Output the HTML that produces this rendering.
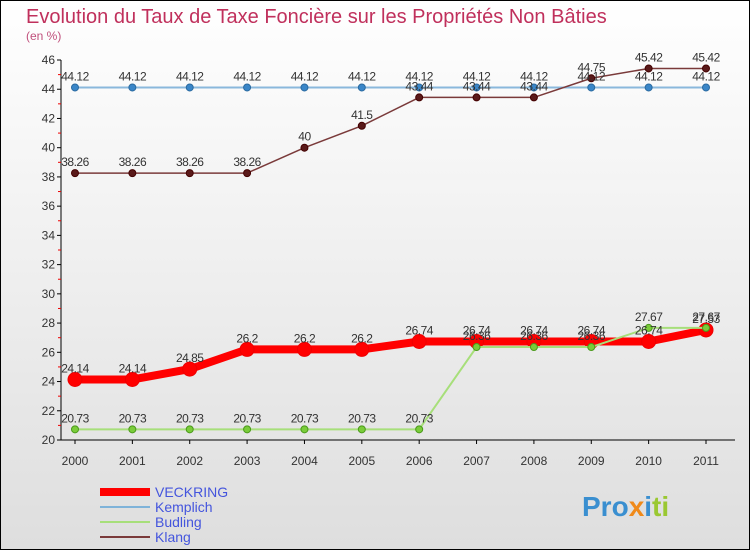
<!DOCTYPE html>
<html><head><meta charset="utf-8"><style>
html,body{margin:0;padding:0}
body{width:750px;height:550px;overflow:hidden;font-family:"Liberation Sans",sans-serif}
</style></head><body>
<svg width="750" height="550" xmlns="http://www.w3.org/2000/svg" font-family="Liberation Sans, sans-serif">
<defs><linearGradient id="bg" x1="0" y1="0" x2="0" y2="1"><stop offset="0" stop-color="#ffffff"/><stop offset="1" stop-color="#dedede"/></linearGradient></defs>
<rect x="0.5" y="0.5" width="749" height="549" fill="url(#bg)" stroke="#000"/>
<text x="26" y="23" font-size="20" fill="#c0305c">Evolution du Taux de Taxe Foncière sur les Propriétés Non Bâties</text>
<text x="26" y="40" font-size="12" fill="#c0507c">(en %)</text>
<g id="axes"></g><g id="series"></g><g id="labels"></g>
<g font-size="14" fill="#4455dd">
<line x1="100" y1="492" x2="150" y2="492" stroke="#ff0000" stroke-width="8"/><text x="155" y="497" fill="#4455dd">VECKRING</text>
<line x1="100" y1="507" x2="150" y2="507" stroke="#7fb3d9" stroke-width="2"/><text x="155" y="512" fill="#4455dd">Kemplich</text>
<line x1="100" y1="522" x2="150" y2="522" stroke="#a7df7a" stroke-width="2"/><text x="155" y="527" fill="#4455dd">Budling</text>
<line x1="100" y1="537" x2="150" y2="537" stroke="#7a3a3a" stroke-width="2"/><text x="155" y="542" fill="#4455dd">Klang</text>
</g>
<g font-size="28" font-weight="bold">
<text x="582" y="516"><tspan fill="#3a8fd0">Pro</tspan><tspan fill="#f08a1a">x</tspan><tspan fill="#3a8fd0">i</tspan><tspan fill="#9ac832">ti</tspan></text>
</g>
</svg>
<script>
const years=[2000,2001,2002,2003,2004,2005,2006,2007,2008,2009,2010,2011];
const veckring=[24.14,24.14,24.85,26.2,26.2,26.2,26.74,26.74,26.74,26.74,26.74,27.53];
const kemplich=[44.12,44.12,44.12,44.12,44.12,44.12,44.12,44.12,44.12,44.12,44.12,44.12];
const budling=[20.73,20.73,20.73,20.73,20.73,20.73,20.73,26.36,26.36,26.36,27.67,27.67];
const klang=[38.26,38.26,38.26,38.26,40,41.5,43.44,43.44,43.44,44.75,45.42,45.42];
const yTicks=[20,22,24,26,28,30,32,34,36,38,40,42,44,46];
const NS="http://www.w3.org/2000/svg";
const X=i=>75+i*(631/11);
const Y=v=>440-(v-20)*(380/26);
function mk(tag,attrs,parent){const e=document.createElementNS(NS,tag);for(const k in attrs)e.setAttribute(k,attrs[k]);parent.appendChild(e);return e;}
const ax=document.getElementById('axes');
let a=mk('line',{x1:61,y1:Y(46),x2:61,y2:Y(20),stroke:'#000'},ax);


a=mk('line',{x1:61,y1:Y(20),x2:735,y2:Y(20),stroke:'#000'},ax);


yTicks.forEach(v=>{
 mk('line',{x1:57,y1:Y(v),x2:61,y2:Y(v),stroke:'#000'},ax);
 if(v<46) mk('line',{x1:58,y1:Y(v+1),x2:61,y2:Y(v+1),stroke:'#e00'},ax);
 const t=mk('text',{x:55,y:Y(v)+4,'font-size':12,'text-anchor':'end',fill:'#333'},ax);
 t.textContent=v;
 
 
});
years.forEach((yr,i)=>{
 mk('line',{x1:X(i),y1:440,x2:X(i),y2:444,stroke:'#000'},ax);
 const t=mk('text',{x:X(i),y:465,'font-size':12,'text-anchor':'middle',fill:'#333'},ax);
 t.textContent=yr;
 
 
});
const sg=document.getElementById('series'),lg=document.getElementById('labels');
function draw(name,vals,color,w,r,dot,dotStroke){
 const g=mk('g',{},sg);
 
 
 mk('polyline',{points:vals.map((v,i)=>X(i)+','+Y(v)).join(' '),fill:'none',stroke:color,'stroke-width':w,'stroke-linejoin':'round'},g);
 vals.forEach((v,i)=>{
  const c=mk('circle',{cx:X(i),cy:Y(v),r:r,fill:dot,stroke:dotStroke,'stroke-width':1},g);
  
  
  const t=mk('text',{x:X(i),y:Y(v)-7,'font-size':12,'text-anchor':'middle',fill:'#333','letter-spacing':'-0.5'},lg);
  t.textContent=v;
  
  
 });
}
draw('kemplich',kemplich,'#8ab8dc',2,3.5,'#3a86c8','#2a6aa0');
draw('klang',klang,'#7a3a3a',1.5,3.5,'#5a1a1a','#400');
draw('veckring',veckring,'#ff0000',8,7,'#ff0000','#e00');
draw('budling',budling,'#a7df7a',2,3.5,'#7acc3a','#4a9a1a');
</script>
</body></html>
